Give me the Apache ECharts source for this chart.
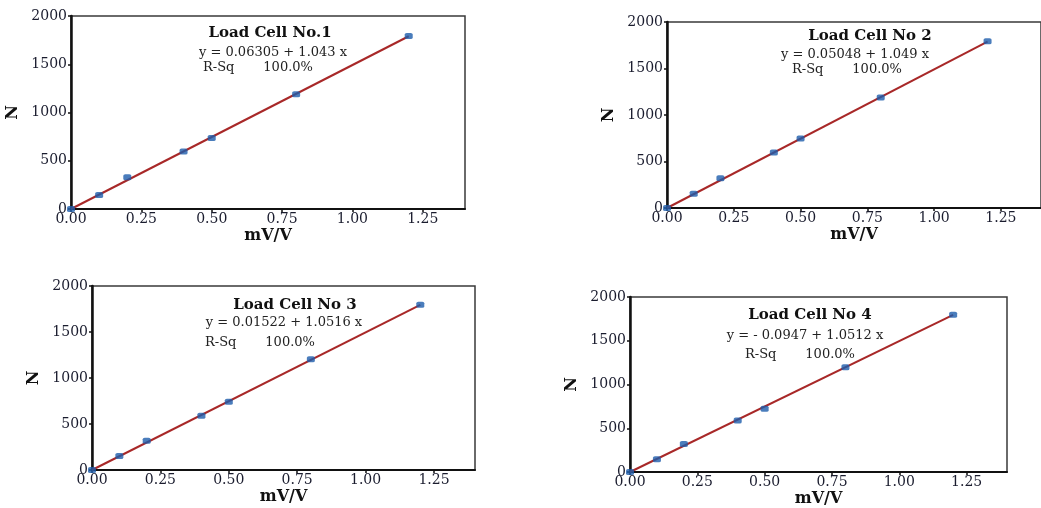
<!DOCTYPE html>
<html>
<head>
<meta charset="utf-8">
<script src="https://cdn.jsdelivr.net/npm/echarts@6/dist/echarts.min.js"></script>
<style>
  html, body { margin: 0; padding: 0; background: #fff; }
  #main { width: 1041px; height: 508px; }
</style>
</head>
<body>
<div id="main"></div>
<script>
// calibration points, mV/V
var mvv = [0, 0.1, 0.2, 0.4, 0.5, 0.8, 1.2];
// measured loads, N
var cell1 = [0, 145, 328, 596, 735, 1188, 1792];
var cell2 = [0, 153, 321, 596, 746, 1189, 1793];
var cell3 = [0, 152, 318, 589, 741, 1204, 1797];
var cell4 = [0, 147, 321, 590, 723, 1196, 1797];
// fitted line end points
var fitX = [0, 1.2];
var fit1 = [0, 1790];
var fit2 = [0, 1790];
var fit3 = [0, 1795];
var fit4 = [0, 1795];

var cellNames = ['Load Cell No.1', 'Load Cell No 2', 'Load Cell No 3', 'Load Cell No 4'];
var equations = ['y = 0.06305 + 1.043 x', 'y = 0.05048 + 1.049 x', 'y = 0.01522 + 1.0516 x', 'y = - 0.0947 + 1.0512 x'];
var rsq = 'R-Sq       100.0%';

var cells = [cell1, cell2, cell3, cell4];
var fits = [fit1, fit2, fit3, fit4];

function pairs(xs, ys) {
  var out = [];
  for (var i = 0; i < xs.length; i++) out.push([xs[i], ys[i]]);
  return out;
}

var myChart = echarts.init(document.getElementById('main'), null, { renderer: 'canvas' });

var serif = '"DejaVu Serif", "Liberation Serif", serif';

var grids = [
  { left: 71, top: 16, right: 576, bottom: 299 },
  { left: 667, top: 22, right: -9, bottom: 300 },
  { left: 92, top: 286, right: 566, bottom: 38 },
  { left: 630, top: 297, right: 34, bottom: 31 }
];

// text blocks inside each plot
var notes = [
  { tx: 270, ty: 33, ex: 273, ey: 53, rx: 203, ry: 68 },
  { tx: 870, ty: 36, ex: 855, ey: 55, rx: 792, ry: 70 },
  { tx: 295, ty: 305, ex: 284, ey: 323, rx: 205, ry: 343 },
  { tx: 810, ty: 315, ex: 805, ey: 336, rx: 745, ry: 355 }
];

var xAxes = [], yAxes = [], series = [], graphics = [];
for (var k = 0; k < 4; k++) {
  grids[k].show = true;
  grids[k].borderColor = '#3a3a3a';
  grids[k].borderWidth = 1.5;
  grids[k].backgroundColor = 'transparent';

  xAxes.push({
    gridIndex: k,
    type: 'value',
    min: 0,
    max: 1.4,
    interval: 0.25,
    name: 'mV/V',
    nameLocation: 'middle',
    nameGap: 19,
    nameTextStyle: { fontFamily: serif, fontWeight: 'bold', fontSize: 16, color: '#111', verticalAlign: 'top' },
    axisLine: { show: true, lineStyle: { color: '#111', width: 2 } },
    axisTick: { show: true, length: 3, lineStyle: { color: '#111', width: 1.5 } },
    axisLabel: {
      showMaxLabel: false,
      margin: 3,
      fontFamily: serif,
      fontSize: 14,
      color: '#1a1c2e',
      formatter: function (v) { return v.toFixed(2); }
    },
    splitLine: { show: false }
  });
  yAxes.push({
    gridIndex: k,
    type: 'value',
    min: 0,
    max: 2000,
    interval: 500,
    name: 'N',
    nameLocation: 'middle',
    nameGap: 50,
    nameRotate: 90,
    nameTextStyle: { fontFamily: serif, fontWeight: 'bold', fontSize: 16, color: '#111' },
    axisLine: { show: true, lineStyle: { color: '#111', width: 2.5 } },
    axisTick: { show: true, length: 3, lineStyle: { color: '#111', width: 1.5 } },
    axisLabel: {
      margin: 4,
      fontFamily: serif,
      fontSize: 14,
      color: '#1a1c2e',
      formatter: function (v) { return String(v); }
    },
    splitLine: { show: false }
  });
  series.push({
    type: 'line',
    xAxisIndex: k,
    yAxisIndex: k,
    data: pairs(fitX, fits[k]),
    showSymbol: false,
    lineStyle: { color: '#a82828', width: 2 },
    silent: true,
    z: 2
  });
  series.push({
    type: 'scatter',
    xAxisIndex: k,
    yAxisIndex: k,
    data: pairs(mvv, cells[k]),
    symbol: 'roundRect',
    symbolSize: [8, 6],
    itemStyle: { color: '#1d5cab' },
    z: 3
  });

  var n = notes[k];
  graphics.push({
    type: 'text', x: n.tx, y: n.ty,
    style: { text: cellNames[k], align: 'center', verticalAlign: 'middle', fill: '#111', font: 'bold 15px ' + serif }
  });
  graphics.push({
    type: 'text', x: n.ex, y: n.ey,
    style: { text: equations[k], align: 'center', verticalAlign: 'middle', fill: '#222', font: '13px ' + serif }
  });
  graphics.push({
    type: 'text', x: n.rx, y: n.ry,
    style: { text: rsq, align: 'left', verticalAlign: 'middle', fill: '#222', font: '13px ' + serif }
  });
}

var option = {
  animation: false,
  backgroundColor: '#fff',
  grid: grids,
  xAxis: xAxes,
  yAxis: yAxes,
  series: series,
  graphic: graphics
};
myChart.setOption(option);
</script>
</body>
</html>
